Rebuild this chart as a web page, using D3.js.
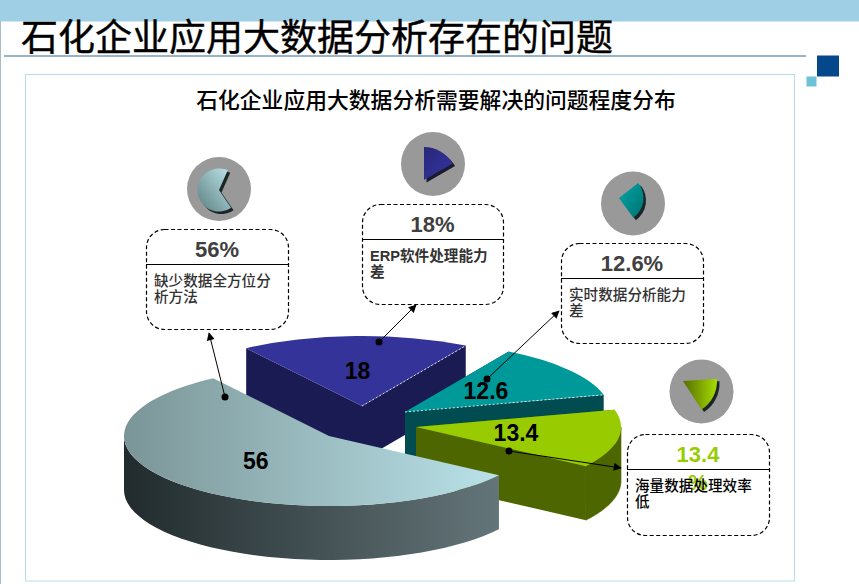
<!DOCTYPE html>
<html>
<head>
<meta charset="utf-8">
<script src="https://cdn.jsdelivr.net/npm/d3@7"></script>
<style>
  body { margin: 0; background: #fff; }
  svg { display: block; }
  text { font-family: "Liberation Sans", "Noto Sans CJK SC", sans-serif; }
</style>
</head>
<body>
<div class="canvas"></div>
<script>
// chart values
const categories = ["缺少数据全方位分析方法", "ERP软件处理能力差", "实时数据分析能力差", "海量数据处理效率低"];
const values = [56, 18, 12.6, 13.4];
const percentLabels = [["56%"], ["18%"], ["12.6%"], ["13.4", "%"]];
const bodyLines = [
  ["缺少数据全方位分", "析方法"],
  ["ERP软件处理能力", "差"],
  ["实时数据分析能力", "差"],
  ["海量数据处理效率", "低"],
];

const title = "石化企业应用大数据分析存在的问题";
const subtitle = "石化企业应用大数据分析需要解决的问题程度分布";

const dims = { width: 859, height: 584, rx: 205, ry: 70, depth: 54 };
const base = { x: 329, y: 436 };

// how far each slice is pulled out of the pie
const explode = [[0, 0], [33, -30], [76, -24], [87, -9]];
const topColors = ["url(#bigTop)", "#333399", "#009999", "#99cc00"];
const sideColors = ["url(#bigSide)", "#1b1b54", "#004c50", "#4d6600"];
const percentColors = ["#404040", "#404040", "#404040", "#99cc00"];
const bodyColors = ["#333", "#333", "#333", "#000"];

const boxes = [
  { x: 146, y: 229, w: 142, h: 100, line: 35 },
  { x: 362, y: 204, w: 141, h: 100, line: 35 },
  { x: 561, y: 243, w: 142, h: 100, line: 35 },
  { x: 627, y: 434, w: 142, h: 101, line: 35 },
];
const leaders = [
  { from: [225, 397], to: [209, 333] },
  { from: [379, 342], to: [416, 305] },
  { from: [487, 379], to: [559, 311] },
  { from: [509, 451], to: [621, 468] },
];
const icons = [
  { cx: 219, cy: 189, ax: 219, ay: 190, r: 21.5, a0: 146, a1: 384, fill: "url(#icon0)", shadow: "#1c2526" },
  { cx: 433, cy: 164, ax: 424, ay: 180, r: 33, a0: 0, a1: 60, fill: "url(#icon1)", shadow: "#1b1b30" },
  { cx: 633, cy: 203.5, ax: 619, ay: 198, r: 24.5, a0: 52, a1: 144, fill: "url(#icon2)", shadow: "#1c2526" },
  { cx: 701.5, cy: 391.5, ax: 683, ay: 381, r: 34, a0: 86, a1: 147, fill: "url(#icon3)", shadow: "#1c2526" },
];

const svg = d3
  .select(".canvas")
  .append("svg")
  .attr("width", dims.width)
  .attr("height", dims.height);

const defs = svg.append("defs");

const addGradient = (id, x1, y1, x2, y2, from, to) => {
  const lg = defs
    .append("linearGradient")
    .attr("id", id)
    .attr("x1", x1)
    .attr("y1", y1)
    .attr("x2", x2)
    .attr("y2", y2);
  lg.append("stop").attr("offset", "0%").attr("stop-color", from);
  lg.append("stop").attr("offset", "100%").attr("stop-color", to);
};

addGradient("bigTop", 0, 0, 1, 0, "#7b9597", "#b9e2e8");
addGradient("bigSide", 0, 0, 1, 0, "#212b2d", "#647579");
addGradient("icon0", 0, 1, 1, 0, "#5b7e80", "#bde6ea");
addGradient("icon1", 0, 0, 1, 1, "#27277a", "#3535a0");
addGradient("icon2", 0, 0, 1, 1, "#00a5a5", "#007272");
addGradient("icon3", 0, 0, 1, 0, "#566c00", "#a6dc00");

// page furniture
svg.append("rect").attr("width", dims.width).attr("height", 21.5).attr("fill", "#9fcfe5");
svg.append("line")
  .attr("x1", 0.5).attr("x2", 0.5).attr("y1", 21).attr("y2", dims.height)
  .attr("stroke", "#a8bcc8");

svg.append("text")
  .text(title)
  .attr("x", 21)
  .attr("y", 51)
  .attr("font-size", 37)
  .attr("fill", "#000")
  .attr("stroke", "#000")
  .attr("stroke-width", 0.4);

svg.append("line")
  .attr("x1", 4).attr("x2", 806).attr("y1", 56).attr("y2", 56)
  .attr("stroke", "#2f6a98").attr("stroke-width", 1.2);

svg.append("rect").attr("x", 817).attr("y", 55.5).attr("width", 22).attr("height", 21).attr("fill", "#04478a");
svg.append("rect").attr("x", 806.5).attr("y", 76.5).attr("width", 10).attr("height", 10).attr("fill", "#6cc0d8");

svg.append("rect")
  .attr("x", 25.5).attr("y", 74.5).attr("width", 769).attr("height", 506.5)
  .attr("fill", "#fff").attr("stroke", "#b5dfe6");

svg.append("text")
  .text(subtitle)
  .attr("x", 436)
  .attr("y", 108)
  .attr("text-anchor", "middle")
  .attr("font-size", 21.8)
  .attr("font-weight", 500)
  .attr("fill", "#000");

// pie: slices run clockwise, big slice starts low on the right
const startAngle = (124 * Math.PI) / 180;
const pie = d3
  .pie()
  .sort(null)
  .startAngle(startAngle)
  .endAngle(startAngle + 2 * Math.PI);

const slices = pie(values).map((d, i) => ({
  ...d,
  cx: base.x + explode[i][0],
  cy: base.y + explode[i][1],
  index: i,
}));

const flat = dims.ry / dims.rx;
const arcPath = d3.arc().innerRadius(0).outerRadius(dims.rx);
const rim = (d, a) => [d.cx + dims.rx * Math.sin(a), d.cy - dims.ry * Math.cos(a)];
const line = d3.line();

// outer wall only where the rim faces the viewer
const rimWall = (d) => {
  // slices past 12 o'clock carry angles above a full turn
  const turn = d.endAngle > 2 * Math.PI + Math.PI / 2 ? 2 * Math.PI : 0;
  const a0 = Math.max(d.startAngle - turn, Math.PI / 2);
  const a1 = Math.min(d.endAngle - turn, (3 * Math.PI) / 2);
  if (a1 <= a0) return null;
  const steps = d3.range(0, 41).map((k) => a0 + ((a1 - a0) * k) / 40);
  const upper = steps.map((a) => rim(d, a));
  const lower = upper.map(([x, y]) => [x, y + dims.depth]).reverse();
  return line([...upper, ...lower]) + "Z";
};

const radialWall = (d, a) => {
  const [x, y] = rim(d, a);
  return (
    line([
      [d.cx, d.cy],
      [x, y],
      [x, y + dims.depth],
      [d.cx, d.cy + dims.depth],
    ]) + "Z"
  );
};

// back to front: 18, 12.6, 13.4, then the big one
const drawOrder = [1, 2, 3, 0];

const graph = svg.append("g");

drawOrder.forEach((i) => {
  const d = slices[i];
  const g = graph.append("g").attr("class", "slice");

  // faces pointing away are left out, the top covers them anyway
  if (i !== 0) {
    g.append("path").attr("d", radialWall(d, d.startAngle)).attr("fill", sideColors[i]);
    g.append("path").attr("d", radialWall(d, d.endAngle)).attr("fill", sideColors[i]);
  }
  const wall = rimWall(d);
  if (wall) {
    g.append("path")
      .attr("d", wall)
      .attr("fill", sideColors[i])
      .attr("stroke", i === 0 ? "none" : sideColors[i])
      .attr("stroke-width", 0.6);
  }

  g.append("path")
    .attr("d", arcPath(d))
    .attr("transform", `translate(${d.cx}, ${d.cy}) scale(1, ${flat})`)
    .attr("fill", topColors[i]);

  // faint white seam on the back slices
  if (i === 1 || i === 2) {
    g.append("path")
      .attr("d", line([[d.cx, d.cy], rim(d, d.endAngle)]))
      .attr("stroke", "#fff")
      .attr("stroke-width", 0.8)
      .attr("stroke-dasharray", "2 2");
  }
});

// value labels sit on the arc centroid
graph
  .selectAll("text")
  .data(slices)
  .join("text")
  .text((d) => d.value)
  .attr("x", (d) => d.cx + arcPath.centroid(d)[0] - 1)
  .attr("y", (d) => d.cy + arcPath.centroid(d)[1] * flat + 8)
  .attr("text-anchor", "middle")
  .attr("font-size", 23)
  .attr("font-weight", "bold")
  .attr("fill", "#000");

// callouts
const callouts = svg
  .selectAll(".callout")
  .data(boxes)
  .join("g")
  .attr("class", "callout")
  .attr("transform", (d) => `translate(${d.x}, ${d.y})`);

callouts
  .append("rect")
  .attr("x", 0.5)
  .attr("y", 0.5)
  .attr("width", (d) => d.w)
  .attr("height", (d) => d.h)
  .attr("rx", 18)
  .attr("fill", "#fff")
  .attr("stroke", "#000")
  .attr("stroke-width", 1.2)
  .attr("stroke-dasharray", "4 2.5");

callouts
  .append("line")
  .attr("x2", (d) => d.w)
  .attr("y1", (d) => d.line + 0.5)
  .attr("y2", (d) => d.line + 0.5)
  .attr("stroke", "#000")
  .attr("stroke-width", 1.2);

callouts.each(function (d, i) {
  const box = d3.select(this);
  percentLabels[i].forEach((t, k) => {
    box
      .append("text")
      .text(t)
      .attr("x", d.w / 2)
      .attr("y", 28 + k * 28)
      .attr("text-anchor", "middle")
      .attr("font-size", 22)
      .attr("font-weight", "bold")
      .attr("fill", percentColors[i]);
  });
  bodyLines[i].forEach((t, k) => {
    box
      .append("text")
      .text(t)
      .attr("x", 8)
      .attr("y", 57 + k * 16)
      .attr("font-size", 14.6)
      .attr("font-weight", i === 1 ? "bold" : 500)
      .attr("fill", bodyColors[i]);
  });
});

// leader lines with a dot on the slice
defs
  .append("marker")
  .attr("id", "arrow")
  .attr("viewBox", "0 0 10 10")
  .attr("refX", 9)
  .attr("refY", 5)
  .attr("markerWidth", 9)
  .attr("markerHeight", 8)
  .attr("markerUnits", "userSpaceOnUse")
  .attr("orient", "auto")
  .append("path")
  .attr("d", "M0,0L10,5L0,10Z")
  .attr("fill", "#000");

svg
  .selectAll(".leader")
  .data(leaders)
  .join("line")
  .attr("class", "leader")
  .attr("x1", (d) => d.from[0])
  .attr("y1", (d) => d.from[1])
  .attr("x2", (d) => d.to[0])
  .attr("y2", (d) => d.to[1])
  .attr("stroke", "#000")
  .attr("marker-end", "url(#arrow)");

svg
  .selectAll(".dot")
  .data(leaders)
  .join("circle")
  .attr("class", "dot")
  .attr("cx", (d) => d.from[0])
  .attr("cy", (d) => d.from[1])
  .attr("r", 3.5)
  .attr("fill", "#000");

// small pie icons above the callouts
const iconArc = d3.arc().innerRadius(0);
const rad = (a) => (a * Math.PI) / 180;

icons.forEach((d) => {
  svg.append("circle")
    .attr("cx", d.cx).attr("cy", d.cy).attr("r", 32)
    .attr("fill", "#999");
  const shape = iconArc({ outerRadius: d.r, startAngle: rad(d.a0), endAngle: rad(d.a1) });
  svg.append("path")
    .attr("d", shape)
    .attr("transform", `translate(${d.ax + 2.5}, ${d.ay + 2.5})`)
    .attr("fill", d.shadow);
  svg.append("path")
    .attr("d", shape)
    .attr("transform", `translate(${d.ax}, ${d.ay})`)
    .attr("fill", d.fill);
});
</script>
</body>
</html>
